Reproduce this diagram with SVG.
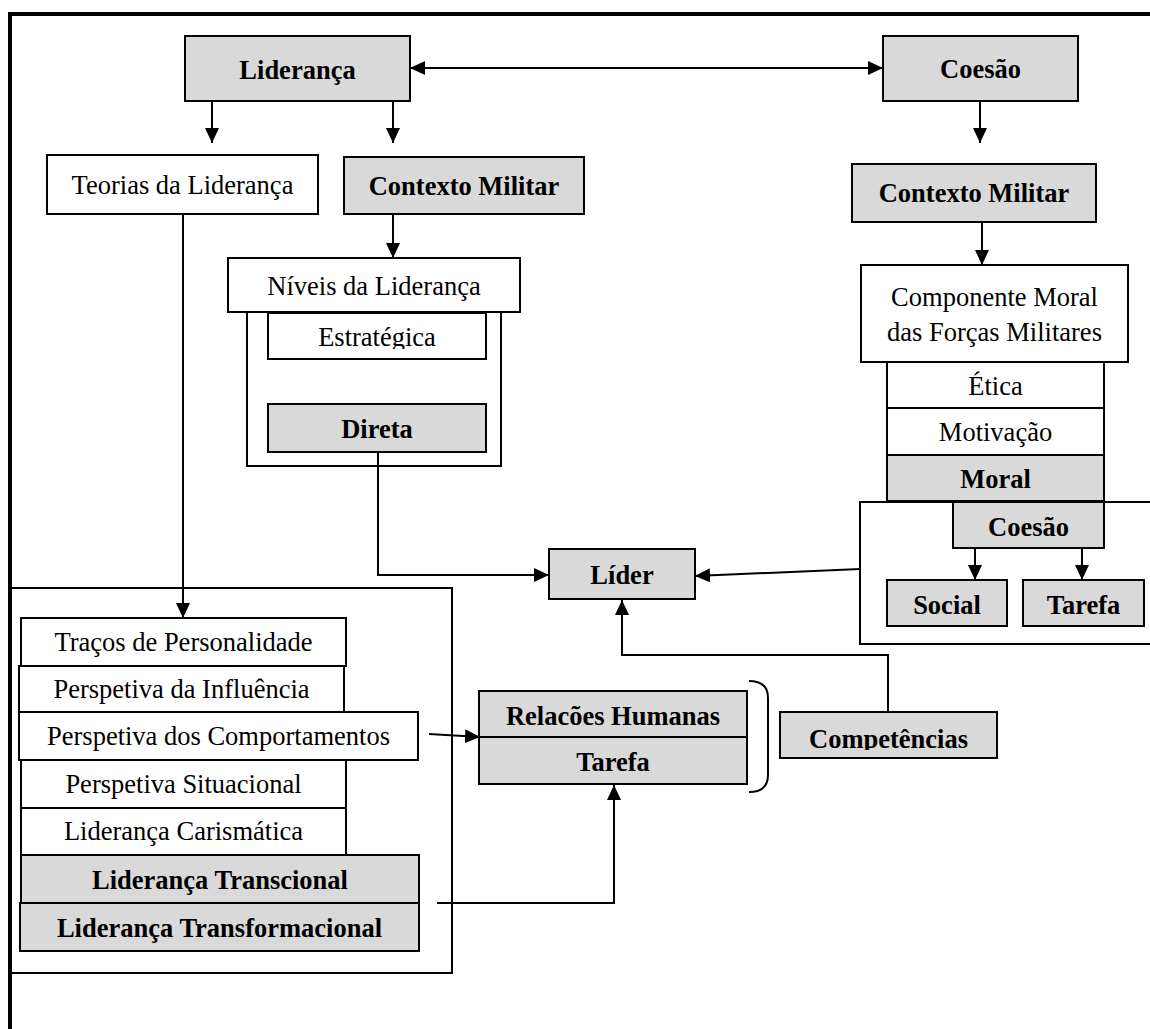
<svg xmlns="http://www.w3.org/2000/svg" width="1150" height="1029" viewBox="0 0 1150 1029">
  <style>
    .box { fill: #ffffff; stroke: #000; stroke-width: 2; }
    .hl { fill: #d9d9d9; stroke: #000; stroke-width: 2; }
    .frame { fill: none; stroke: #000; stroke-width: 2; }
    .t { font-family: "Liberation Serif", "Times New Roman", serif; font-size: 26.5px; fill: #000; text-anchor: middle; }
    .b { font-weight: bold; }
    .edge { fill: none; stroke: #000; stroke-width: 2; }
  </style>
  <defs>
    <marker id="arrow" markerUnits="userSpaceOnUse" markerWidth="16" markerHeight="14" refX="15" refY="7" orient="auto-start-reverse">
      <path d="M0,0 L15,7 L0,14 z" fill="#000"/>
    </marker>
    <clipPath id="clipEstr"><rect x="268" y="313" width="218" height="36"/></clipPath>
    <clipPath id="clipComp"><rect x="780" y="712" width="217" height="38"/></clipPath>
  </defs>

  <rect width="1150" height="1029" fill="#ffffff"/>

  <!-- outer border (top and left edges) -->
  <path d="M1150,14 H10 V1029" fill="none" stroke="#000" stroke-width="4"/>

  <!-- grouping frames -->
  <g id="frames">
    <rect class="frame" x="247" y="312" width="254" height="154"/>
    <path class="frame" d="M1152,502 H860 V644 H1152"/>
    <rect class="frame" x="11" y="588" width="441" height="385"/>
    <path class="frame" d="M749,681 Q768,681 768,698 V775 Q768,792 749,792"/>
  </g>

  <!-- connectors -->
  <g id="connectors">
    <line class="edge" x1="410" y1="68" x2="883" y2="68" marker-start="url(#arrow)" marker-end="url(#arrow)"/>
    <line class="edge" x1="212" y1="101" x2="212" y2="143" marker-end="url(#arrow)"/>
    <line class="edge" x1="393" y1="101" x2="393" y2="143" marker-end="url(#arrow)"/>
    <line class="edge" x1="393" y1="214" x2="393" y2="258" marker-end="url(#arrow)"/>
    <line class="edge" x1="980" y1="101" x2="980" y2="143" marker-end="url(#arrow)"/>
    <line class="edge" x1="982" y1="222" x2="982" y2="265" marker-end="url(#arrow)"/>
    <line class="edge" x1="183" y1="214" x2="183" y2="618" marker-end="url(#arrow)"/>
    <polyline class="edge" points="378,452 378,575 549,575" marker-end="url(#arrow)"/>
    <line class="edge" x1="860" y1="569" x2="695" y2="576" marker-end="url(#arrow)"/>
    <polyline class="edge" points="888,712 888,655 622,655 622,600" marker-end="url(#arrow)"/>
    <line class="edge" x1="975" y1="548" x2="975" y2="580" marker-end="url(#arrow)"/>
    <line class="edge" x1="1082" y1="548" x2="1082" y2="580" marker-end="url(#arrow)"/>
    <line class="edge" x1="429" y1="734" x2="480" y2="737" marker-end="url(#arrow)"/>
    <polyline class="edge" points="437,903 614,903 614,785" marker-end="url(#arrow)"/>
  </g>

  <!-- top row -->
  <g id="lideranca">
    <rect class="hl" x="185" y="36" width="225" height="65"/>
    <text class="t b" x="297.5" y="79">Liderança</text>
  </g>
  <g id="coesao">
    <rect class="hl" x="883" y="36" width="195" height="65"/>
    <text class="t b" x="980.5" y="78">Coesão</text>
  </g>

  <!-- leadership branch -->
  <g id="teorias">
    <rect class="box" x="47" y="155" width="271" height="59"/>
    <text class="t" x="182.5" y="194">Teorias da Liderança</text>
  </g>
  <g id="contexto-militar-l">
    <rect class="hl" x="344" y="157" width="240" height="57"/>
    <text class="t b" x="464" y="195">Contexto Militar</text>
  </g>
  <g id="niveis">
    <rect class="box" x="228" y="258" width="292" height="54"/>
    <text class="t" x="374" y="295">Níveis da Liderança</text>
  </g>
  <g id="estrategica">
    <rect class="box" x="268" y="313" width="218" height="46"/>
    <text class="t" x="377" y="346" clip-path="url(#clipEstr)">Estratégica</text>
  </g>
  <g id="direta">
    <rect class="hl" x="268" y="404" width="218" height="48"/>
    <text class="t b" x="377" y="438">Direta</text>
  </g>

  <!-- cohesion branch -->
  <g id="contexto-militar-r">
    <rect class="hl" x="852" y="164" width="244" height="58"/>
    <text class="t b" x="974" y="202">Contexto Militar</text>
  </g>
  <g id="componente-moral">
    <rect class="box" x="861" y="265" width="267" height="97"/>
    <text class="t" x="994.5" y="306">Componente Moral</text>
    <text class="t" x="994.5" y="341">das Forças Militares</text>
  </g>
  <g id="etica">
    <rect class="box" x="887" y="362" width="217" height="46"/>
    <text class="t" x="995.5" y="395">Ética</text>
  </g>
  <g id="motivacao">
    <rect class="box" x="887" y="408" width="217" height="47"/>
    <text class="t" x="995.5" y="441">Motivação</text>
  </g>
  <g id="moral">
    <rect class="hl" x="887" y="455" width="217" height="46"/>
    <text class="t b" x="995.5" y="488">Moral</text>
  </g>
  <g id="coesao-sub">
    <rect class="hl" x="953" y="502" width="151" height="46"/>
    <text class="t b" x="1028.5" y="536">Coesão</text>
  </g>
  <g id="social">
    <rect class="hl" x="887" y="580" width="120" height="46"/>
    <text class="t b" x="947" y="614">Social</text>
  </g>
  <g id="tarefa-coesao">
    <rect class="hl" x="1023" y="580" width="121" height="46"/>
    <text class="t b" x="1083.5" y="614">Tarefa</text>
  </g>

  <!-- leader -->
  <g id="lider">
    <rect class="hl" x="549" y="549" width="146" height="50"/>
    <text class="t b" x="622" y="584">Líder</text>
  </g>

  <!-- leadership theories -->
  <g id="tracos">
    <rect class="box" x="21" y="618" width="325" height="48"/>
    <text class="t" x="183.5" y="651">Traços de Personalidade</text>
  </g>
  <g id="influencia">
    <rect class="box" x="19" y="666" width="325" height="46"/>
    <text class="t" x="181.5" y="698">Perspetiva da Influência</text>
  </g>
  <g id="comportamentos">
    <rect class="box" x="19" y="712" width="399" height="48"/>
    <text class="t" x="218.5" y="745">Perspetiva dos Comportamentos</text>
  </g>
  <g id="situacional">
    <rect class="box" x="21" y="760" width="325" height="48"/>
    <text class="t" x="183.5" y="793">Perspetiva Situacional</text>
  </g>
  <g id="carismatica">
    <rect class="box" x="21" y="808" width="325" height="47"/>
    <text class="t" x="183.5" y="840">Liderança Carismática</text>
  </g>
  <g id="transcional">
    <rect class="hl" x="21" y="855" width="398" height="48"/>
    <text class="t b" x="220" y="889">Liderança Transcional</text>
  </g>
  <g id="transformacional">
    <rect class="hl" x="20" y="903" width="399" height="48"/>
    <text class="t b" x="219.5" y="937">Liderança Transformacional</text>
  </g>

  <!-- orientations -->
  <g id="relacoes-humanas">
    <rect class="hl" x="479" y="691" width="268" height="46"/>
    <text class="t b" x="613" y="725">Relacões Humanas</text>
  </g>
  <g id="tarefa">
    <rect class="hl" x="479" y="737" width="268" height="47"/>
    <text class="t b" x="613" y="771">Tarefa</text>
  </g>
  <g id="competencias">
    <rect class="hl" x="780" y="712" width="217" height="46"/>
    <text class="t b" x="888.5" y="748" clip-path="url(#clipComp)">Competências</text>
  </g>
</svg>
